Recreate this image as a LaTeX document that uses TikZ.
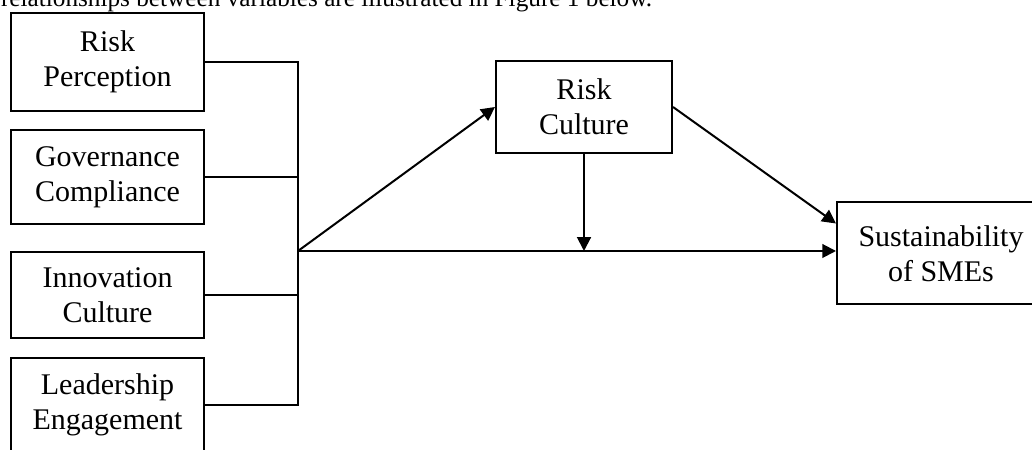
\documentclass[tikz,border=0pt]{standalone}
\usepackage{fontspec}
\setmainfont{Liberation Serif}
\usetikzlibrary{arrows.meta}

\begin{document}
\begin{tikzpicture}[x=0.4pt,y=-0.4pt,line width=0.8pt,
  box/.style={draw,align=center,inner sep=0pt,font=\fontsize{12}{14}\selectfont},
  arr/.style={-{Triangle[length=5.5pt,width=5.5pt]}}]
\useasboundingbox (0,0) rectangle (1032,450);
\def\bw{77.2pt}

\node[anchor=base west,inner sep=0pt,font=\fontsize{10.1}{12}\selectfont] (cap) at (0,6.5)
  {relationships between variables are illustrated in Figure 1 below.};

% independent variables
\node[box,minimum width=\bw,minimum height=39.2pt] (rp) at (107.5,62) {Risk\\Perception};
\node[box,minimum width=\bw,minimum height=37.6pt] (gc) at (107.5,177) {Governance\\Compliance};
\node[box,minimum width=\bw,minimum height=34.4pt] (ic) at (107.5,295) {Innovation\\Culture};
\node[box,minimum width=\bw,minimum height=37.6pt] (le) at (107.5,405) {Leadership\\Engagement};

% mediator and outcome
\node[box,minimum width=70.4pt,minimum height=36.8pt] (rc) at (584,107) {Risk\\Culture};
\node[box,minimum width=83.2pt,minimum height=40.8pt] (sus) at (941,253.5) {Sustainability\\of SMEs};

\coordinate (j) at (298,251);
\draw (rp.east) -- (j |- rp.east) -- (j |- le.east) -- (le.east);
\draw (gc.east) -- (j |- gc.east);
\draw (ic.east) -- (j |- ic.east);

\draw[arr] (j) -- (rc.west);
\draw[arr] (j) -- (j -| sus.west);
\draw[arr] (rc.south) -- (rc.south |- j);
\draw[arr] (rc.east) -- ([yshift=12pt]sus.west);
\end{tikzpicture}
\end{document}
